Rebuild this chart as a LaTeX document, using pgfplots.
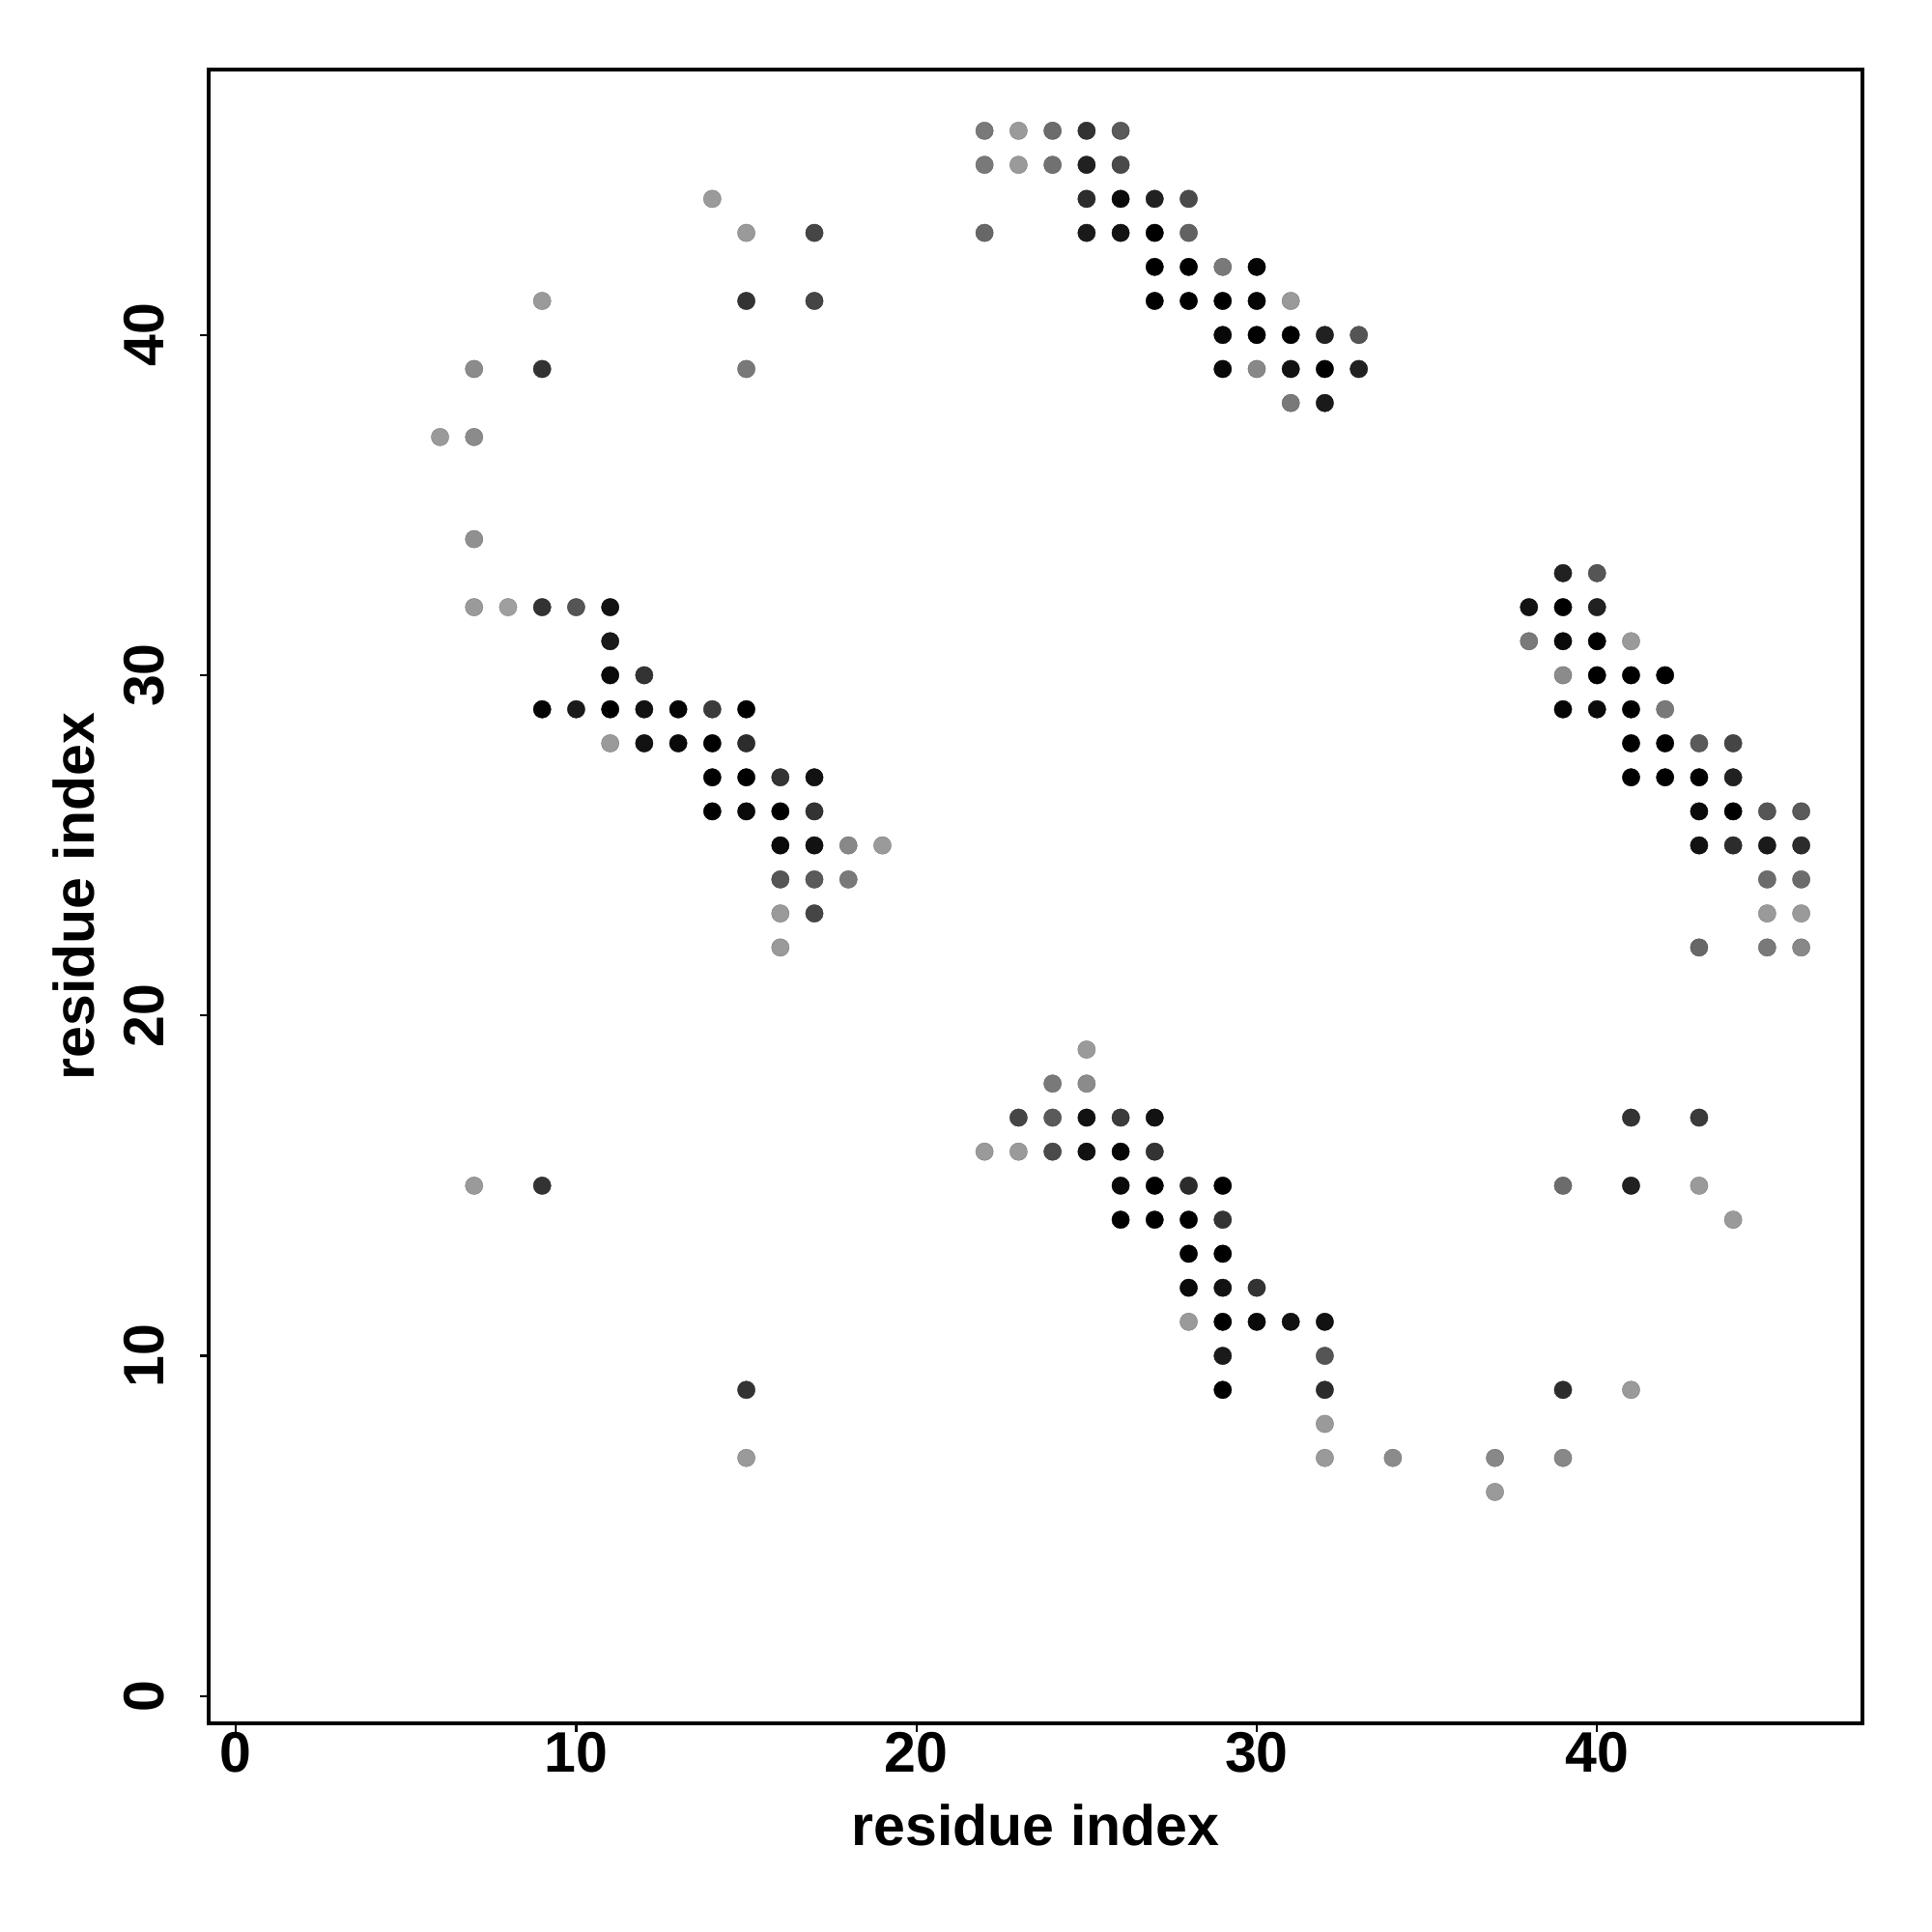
\documentclass[border=0pt]{standalone}
\usepackage{pgfplots}
\pgfplotsset{compat=1.18}
\usepackage{pgfplotstable}
\usepackage{fontspec}
\setmainfont{Liberation Sans}
\pgfplotstableread{
x y g
22 46 0.47
23 46 0.60
24 46 0.42
25 46 0.20
26 46 0.35
22 45 0.47
23 45 0.60
24 45 0.44
25 45 0.13
26 45 0.29
25 44 0.17
26 44 0.04
27 44 0.13
28 44 0.29
22 43 0.40
25 43 0.10
26 43 0.07
27 43 0.00
28 43 0.38
27 42 0.00
28 42 0.00
29 42 0.47
30 42 0.02
27 41 0.00
28 41 0.00
29 41 0.00
30 41 0.02
31 41 0.60
29 40 0.03
30 40 0.00
31 40 0.00
32 40 0.13
33 40 0.33
29 39 0.03
30 39 0.53
31 39 0.07
32 39 0.00
33 39 0.13
31 38 0.47
32 38 0.10
14 44 0.60
15 43 0.60
17 43 0.27
9 41 0.60
15 41 0.20
17 41 0.27
7 39 0.54
9 39 0.20
15 39 0.47
6 37 0.60
7 37 0.54
7 34 0.56
7 32 0.60
8 32 0.62
9 32 0.20
10 32 0.33
11 32 0.07
11 31 0.10
11 30 0.04
12 30 0.20
9 29 0.02
10 29 0.10
11 29 0.00
12 29 0.07
13 29 0.02
14 29 0.23
15 29 0.00
11 28 0.60
12 28 0.07
13 28 0.04
14 28 0.00
15 28 0.17
14 27 0.00
15 27 0.00
16 27 0.20
17 27 0.07
14 26 0.00
15 26 0.04
16 26 0.00
17 26 0.20
16 25 0.04
17 25 0.07
18 25 0.53
19 25 0.60
16 24 0.33
17 24 0.35
18 24 0.47
16 23 0.60
17 23 0.27
16 22 0.60
39 33 0.13
40 33 0.33
38 32 0.07
39 32 0.00
40 32 0.13
38 31 0.47
39 31 0.04
40 31 0.00
41 31 0.60
39 30 0.54
40 30 0.00
41 30 0.00
42 30 0.00
39 29 0.02
40 29 0.04
41 29 0.00
42 29 0.47
41 28 0.00
42 28 0.00
43 28 0.35
44 28 0.27
41 27 0.00
42 27 0.00
43 27 0.00
44 27 0.13
43 26 0.04
44 26 0.00
45 26 0.33
46 26 0.35
43 25 0.07
44 25 0.17
45 25 0.10
46 25 0.17
45 24 0.42
46 24 0.42
45 23 0.60
46 23 0.60
43 22 0.40
45 22 0.47
46 22 0.53
25 19 0.60
24 18 0.47
25 18 0.54
23 17 0.27
24 17 0.35
25 17 0.07
26 17 0.23
27 17 0.07
22 16 0.60
23 16 0.60
24 16 0.29
25 16 0.07
26 16 0.02
27 16 0.20
26 15 0.04
27 15 0.00
28 15 0.17
29 15 0.00
26 14 0.00
27 14 0.00
28 14 0.00
29 14 0.20
28 13 0.00
29 13 0.00
28 12 0.04
29 12 0.07
30 12 0.20
28 11 0.60
29 11 0.00
30 11 0.04
31 11 0.07
32 11 0.07
29 10 0.10
32 10 0.33
29 9 0.00
32 9 0.17
32 8 0.60
32 7 0.60
34 7 0.54
41 17 0.20
43 17 0.23
39 15 0.42
41 15 0.13
43 15 0.60
44 14 0.60
39 9 0.17
41 9 0.60
37 7 0.53
39 7 0.53
37 6 0.60
7 15 0.60
9 15 0.20
15 9 0.20
15 7 0.60
}\contacts
\begin{document}
\begin{tikzpicture}
\begin{axis}[
  scale only axis,
  width=17.12cm, height=17.12cm,
  xmin=-0.8, xmax=47.8, ymin=-0.8, ymax=47.8,
  xtick={0,10,20,30,40}, ytick={0,10,20,30,40},
  xtick pos=left, ytick pos=left,
  tick align=outside,
  major tick length=0.085cm,
  axis line style={line width=1.35pt},
  every tick/.style={line width=0.6pt, black},
  /pgf/number format/assume math mode=true,
  ticklabel style={font=\fontsize{16.8}{20}\selectfont\bfseries, inner sep=0pt},
  xticklabel style={anchor=north, yshift=0cm},
  yticklabel style={rotate=90, anchor=south, yshift=0.365cm},
  label style={font=\fontsize{16.8}{20}\selectfont\bfseries, inner sep=0pt},
  xlabel={residue index}, ylabel={residue index},
  xlabel style={at={(axis description cs:0.5,-0.07418)}, anchor=base},
  ylabel style={at={(axis description cs:-0.0695,0.5)}, anchor=base, rotate=0},
  colormap={bw}{gray(0cm)=(0); gray(1cm)=(1)},
  point meta min=0, point meta max=1,
]
\addplot[scatter, only marks, mark=*, mark size=2.6pt,
  scatter src=explicit, mark options={line width=0.1pt}]
  table[x=x, y=y, meta=g] {\contacts};
\end{axis}
\path ([xshift=-2.16cm,yshift=-2.16cm]current axis.south west) rectangle ([xshift=0.72cm,yshift=0.72cm]current axis.north east);
\end{tikzpicture}
\end{document}
